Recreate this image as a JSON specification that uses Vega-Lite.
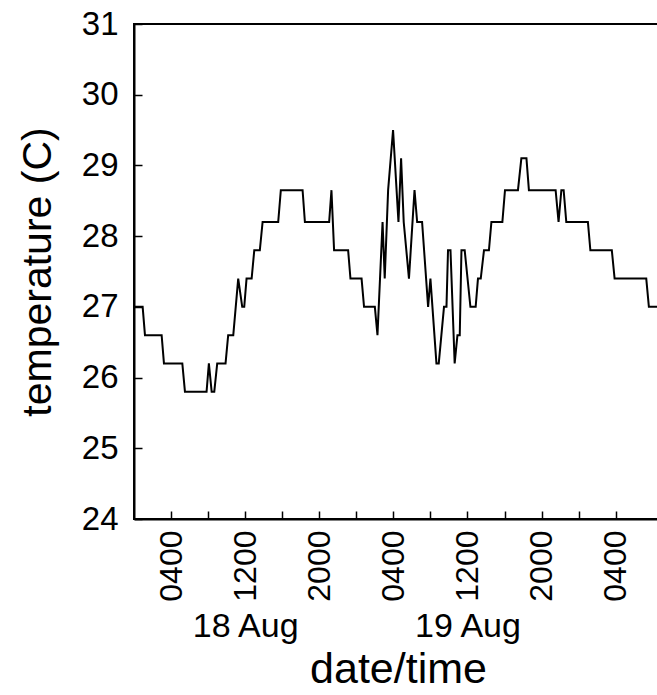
{
  "$schema": "https://vega.github.io/schema/vega-lite/v6.json",
  "width": 528,
  "height": 495,
  "autosize": "none",
  "padding": {"left": 134, "top": 24, "right": 0, "bottom": 176},
  "background": "white",
  "data": {"values": [
    {"time": "2008-08-18T00:00", "temp": 27.0},
    {"time": "2008-08-18T00:56", "temp": 27.0},
    {"time": "2008-08-18T01:11", "temp": 26.6},
    {"time": "2008-08-18T02:59", "temp": 26.6},
    {"time": "2008-08-18T03:14", "temp": 26.2},
    {"time": "2008-08-18T05:13", "temp": 26.2},
    {"time": "2008-08-18T05:30", "temp": 25.8},
    {"time": "2008-08-18T07:50", "temp": 25.8},
    {"time": "2008-08-18T08:05", "temp": 26.2},
    {"time": "2008-08-18T08:23", "temp": 25.8},
    {"time": "2008-08-18T08:40", "temp": 25.8},
    {"time": "2008-08-18T08:59", "temp": 26.2},
    {"time": "2008-08-18T09:53", "temp": 26.2},
    {"time": "2008-08-18T10:10", "temp": 26.6},
    {"time": "2008-08-18T10:43", "temp": 26.6},
    {"time": "2008-08-18T11:15", "temp": 27.4},
    {"time": "2008-08-18T11:41", "temp": 27.0},
    {"time": "2008-08-18T11:54", "temp": 27.0},
    {"time": "2008-08-18T12:09", "temp": 27.4},
    {"time": "2008-08-18T12:42", "temp": 27.4},
    {"time": "2008-08-18T12:59", "temp": 27.8},
    {"time": "2008-08-18T13:35", "temp": 27.8},
    {"time": "2008-08-18T13:53", "temp": 28.2},
    {"time": "2008-08-18T15:34", "temp": 28.2},
    {"time": "2008-08-18T15:51", "temp": 28.65},
    {"time": "2008-08-18T18:12", "temp": 28.65},
    {"time": "2008-08-18T18:27", "temp": 28.2},
    {"time": "2008-08-18T21:04", "temp": 28.2},
    {"time": "2008-08-18T21:19", "temp": 28.65},
    {"time": "2008-08-18T21:36", "temp": 27.8},
    {"time": "2008-08-18T23:07", "temp": 27.8},
    {"time": "2008-08-18T23:22", "temp": 27.4},
    {"time": "2008-08-19T00:34", "temp": 27.4},
    {"time": "2008-08-19T00:50", "temp": 27.0},
    {"time": "2008-08-19T02:00", "temp": 27.0},
    {"time": "2008-08-19T02:17", "temp": 26.6},
    {"time": "2008-08-19T02:50", "temp": 28.2},
    {"time": "2008-08-19T03:04", "temp": 27.4},
    {"time": "2008-08-19T03:26", "temp": 28.65},
    {"time": "2008-08-19T03:58", "temp": 29.5},
    {"time": "2008-08-19T04:33", "temp": 28.2},
    {"time": "2008-08-19T04:50", "temp": 29.1},
    {"time": "2008-08-19T05:07", "temp": 28.2},
    {"time": "2008-08-19T05:41", "temp": 27.4},
    {"time": "2008-08-19T06:17", "temp": 28.65},
    {"time": "2008-08-19T06:34", "temp": 28.2},
    {"time": "2008-08-19T07:06", "temp": 28.2},
    {"time": "2008-08-19T07:45", "temp": 27.0},
    {"time": "2008-08-19T08:00", "temp": 27.4},
    {"time": "2008-08-19T08:39", "temp": 26.2},
    {"time": "2008-08-19T08:54", "temp": 26.2},
    {"time": "2008-08-19T09:28", "temp": 27.0},
    {"time": "2008-08-19T09:44", "temp": 27.0},
    {"time": "2008-08-19T09:54", "temp": 27.8},
    {"time": "2008-08-19T10:10", "temp": 27.8},
    {"time": "2008-08-19T10:37", "temp": 26.2},
    {"time": "2008-08-19T10:55", "temp": 26.6},
    {"time": "2008-08-19T11:10", "temp": 26.6},
    {"time": "2008-08-19T11:21", "temp": 27.8},
    {"time": "2008-08-19T11:42", "temp": 27.8},
    {"time": "2008-08-19T12:19", "temp": 27.0},
    {"time": "2008-08-19T12:53", "temp": 27.0},
    {"time": "2008-08-19T13:08", "temp": 27.4},
    {"time": "2008-08-19T13:26", "temp": 27.4},
    {"time": "2008-08-19T13:47", "temp": 27.8},
    {"time": "2008-08-19T14:19", "temp": 27.8},
    {"time": "2008-08-19T14:35", "temp": 28.2},
    {"time": "2008-08-19T15:46", "temp": 28.2},
    {"time": "2008-08-19T16:03", "temp": 28.65},
    {"time": "2008-08-19T17:27", "temp": 28.65},
    {"time": "2008-08-19T17:49", "temp": 29.1},
    {"time": "2008-08-19T18:22", "temp": 29.1},
    {"time": "2008-08-19T18:38", "temp": 28.65},
    {"time": "2008-08-19T21:31", "temp": 28.65},
    {"time": "2008-08-19T21:50", "temp": 28.2},
    {"time": "2008-08-19T22:08", "temp": 28.65},
    {"time": "2008-08-19T22:23", "temp": 28.65},
    {"time": "2008-08-19T22:40", "temp": 28.2},
    {"time": "2008-08-20T01:00", "temp": 28.2},
    {"time": "2008-08-20T01:16", "temp": 27.8},
    {"time": "2008-08-20T03:35", "temp": 27.8},
    {"time": "2008-08-20T03:53", "temp": 27.4},
    {"time": "2008-08-20T07:18", "temp": 27.4},
    {"time": "2008-08-20T07:35", "temp": 27.0},
    {"time": "2008-08-20T08:45", "temp": 27.0}
  ]},
  "layer": [
    {
      "mark": {"type": "line", "color": "black", "strokeWidth": 2},
      "encoding": {
        "x": {
          "field": "time", "type": "temporal",
          "scale": {"domain": [{"year": 2008, "month": 8, "date": 18, "hours": 0}, {"year": 2008, "month": 8, "date": 20, "hours": 9}]},
          "axis": {
            "orient": "bottom",
            "values": [
              {"year": 2008, "month": 8, "date": 18, "hours": 4},
              {"year": 2008, "month": 8, "date": 18, "hours": 8},
              {"year": 2008, "month": 8, "date": 18, "hours": 12},
              {"year": 2008, "month": 8, "date": 18, "hours": 16},
              {"year": 2008, "month": 8, "date": 18, "hours": 20},
              {"year": 2008, "month": 8, "date": 19, "hours": 0},
              {"year": 2008, "month": 8, "date": 19, "hours": 4},
              {"year": 2008, "month": 8, "date": 19, "hours": 8},
              {"year": 2008, "month": 8, "date": 19, "hours": 12},
              {"year": 2008, "month": 8, "date": 19, "hours": 16},
              {"year": 2008, "month": 8, "date": 19, "hours": 20},
              {"year": 2008, "month": 8, "date": 20, "hours": 0},
              {"year": 2008, "month": 8, "date": 20, "hours": 4}
            ],
            "labelExpr": "hours(datum.value) % 8 == 4 ? timeFormat(datum.value, '%H%M') : ''",
            "labelAngle": 270,
            "tickSize": -8,
            "labelPadding": 19,
            "labelFontSize": 32,
            "labelFlush": false,
            "labelOverlap": false,
            "title": null,
            "grid": false
          }
        },
        "y": {
          "field": "temp", "type": "quantitative",
          "scale": {"domain": [24, 31], "nice": false, "zero": false},
          "axis": {
            "values": [24, 25, 26, 27, 28, 29, 30, 31],
            "tickSize": -8,
            "labelPadding": 24,
            "labelFontSize": 33,
            "labelOverlap": false,
            "title": "temperature (C)",
            "titleFontSize": 41,
            "titleFontWeight": "normal",
            "titlePadding": 22,
            "grid": false
          }
        }
      }
    },
    {
      "mark": {"type": "rule", "strokeOpacity": 0},
      "encoding": {
        "x": {
          "field": "time", "type": "temporal",
          "axis": {
            "orient": "bottom",
            "values": [
              {"year": 2008, "month": 8, "date": 18, "hours": 12},
              {"year": 2008, "month": 8, "date": 19, "hours": 12}
            ],
            "format": "%-d %b",
            "labelAngle": 0,
            "ticks": false,
            "domain": false,
            "labelPadding": 90,
            "labelFontSize": 34,
            "labelFlush": false,
            "labelOverlap": false,
            "title": "date/time",
            "titleFontSize": 43,
            "titleFontWeight": "normal",
            "titlePadding": 5,
            "grid": false
          }
        }
      }
    }
  ],
  "resolve": {"axis": {"x": "independent"}},
  "config": {
    "font": "Liberation Sans",
    "view": {"stroke": "black", "strokeWidth": 2},
    "axis": {
      "labelFont": "Liberation Sans",
      "titleFont": "Liberation Sans",
      "labelColor": "black",
      "titleColor": "black",
      "domainColor": "black",
      "domainWidth": 2,
      "tickColor": "black",
      "tickWidth": 1.5
    }
  }
}
